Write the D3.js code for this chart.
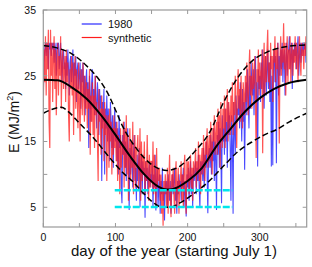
<!DOCTYPE html>
<html lang="en">
<head>
<meta charset="UTF-8">
<script src="https://d3js.org/d3.v7.min.js"></script>
<style>
  body { margin: 0; background: #fff; }
  text { font-family: "Liberation Sans", Arial, sans-serif; fill: #111; }
</style>
</head>
<body>
<script>
// daily values, day 0 = July 1
var blue1980 = [
  22,27,29,30,28,30,29,26,30,29, 30,28,30,29,30,27,30,29,25,30,
  29,30,26,28,30,27,24,28,29,26, 27,23,28,25,29,26,22,27,28,24,
  26,29,23,27,25,28,21,26,27,23, 25,27,20,26,24,27,22,25,19,24,
  26,21,24,14,25,22,18,24,26,20, 23,19,25,21,17,24,22,16,23,20,
  22,9,21,18,23,10,20,17,22,15, 20,16,12,21,18,14,19,11,17,20,
  15,18,12,17,10,19,14,16,8,5.6, 16,13,18,11,15,9,14,17,12,4.6,
  14,10,15,12,8,13,16,9,11,6, 13,9,12,14,5,11,13,7,12,10,
  11,3.4,12,9,11,7,10,12,8,10, 9,12,5,10,8,13,4.5,9,11,5,
  8,10,4,9,7,11,6,8,3,9, 7,9,5,10,8,6,9,4,8,10,
  7,9,11,6,8,4,9,7,10,8, 9,6,10,8,11,5,9,7,3.6,10,
  8,11,6,9,12,7,10,5,11,9, 10,12,7,11,9,13,8,4.9,12,10,
  12,9,14,8,13,11,15,10,4.1,13, 14,11,16,10,15,12,17,9,15,13,
  4.6,16,13,18,11,17,14,5.6,19,15, 17,13,20,15,18,11,21,16,19,14,
  6,19,15,4,21,17,13,22,18,20, 19,22,17,24,20,15,23,18,21,10.7,
  21,24,19,26,22,17,25,20,27,23, 22,26,19,25,28,21,24,11.2,26,23,
  25,21,27,23,29,24,20,26,28,22, 26,29,23,27,21,28,11.2,25,11.4,27,
  29,24,28,11.7,26,30,22,28,25,29, 26,30,24,28,29,22,27,30,25,28,
  29,31,26,28,30,23,29,27,30,28, 30,26,29,31,25,28,30,27,29,30,
  28,30,29,30,27
];
var synthetic = [
  20,29,24,31,22,30,26,32,18,14, 32,25,30,21,28,31,23,29,19,27,
  30,22,28,25,31,20,27,29,23,26, 28,21,29,24,27,19,15,26,23,28,
  22,27,16,25,28,20,26,23,17,27, 21,15,26,23,19,27,22,18,25,20,
  24,17,23,20,26,13,22,18,24,16, 22,14,25,19,21,15,9,23,18,20,
  13,22,17,20,12,21,16,19,9,18, 19,11,20,15,18,10,17,13,19,14,
  17,12,18,9,16,14,7,17,11,15, 13,18,8,17,11,19,10,16,6,13,
  17,9,15,11,18,7,12,16,8,14, 14,16,8,11,17,6,15,9,13,10,
  15,7,12,9,16,10,6,13,8,12, 12,8,15,7,13,9,5,14,8,11,
  9,11,6,10,4,8,2.2,9,7,10, 8,5,11,4,9,13,6,3.5,10,8,
  11,7,4,10,12,5,8,11,4,9, 9,12,6,10,5,11,13,7,4,12,
  9,12,7,10,13,8,11,6,12,10, 11,14,8,12,10,15,9,13,7,12,
  14,10,16,12,9,15,13,17,11,14, 16,12,18,14,10,17,15,19,13,16,
  18,13,20,15,19,11,21,16,14,20, 17,22,14,20,18,23,15,21,19,16,
  22,18,24,16,21,19,25,20,14,23, 26,20,23,18,25,21,17,24,22,19,
  25,21,27,23,19,26,29,22,25,20, 27,23,24,28,21,12.5,26,24,29,22,
  27,25,23,29,13.2,26,30,22,28,24, 29,32,24,27,23,30,26,28,21,29,
  27,31,24,29,26,30,23,14.7,28,31, 25,29,27,33,26,30,22,28,31,24,
  29,26,31,24,28,30,25,29,27,31, 26,30,28,24,29,31,27,25,30,28,
  29,26,30,28,31
];

// smooth mean and +/- band
var meanDays = [0,20,40,60,80,100,120,140,160,171,180,200,220,240,260,280,300,320,340,365];
var meanVals = [24.4,24.3,23.2,21.5,19.0,16.0,12.8,10.0,8.1,7.7,7.8,9.0,11.0,14.3,17.0,19.6,21.6,23.0,23.9,24.4];
var upperDays = [0,20,40,60,80,90,100,110,130,150,171,190,210,230,250,270,290,310,330,350,365];
var upperVals = [29.6,29.2,28.3,26.5,24.0,22.2,19.8,17.3,13.8,11.5,10.6,11.3,13.5,16.3,21.0,24.8,27.3,28.6,29.3,29.6,29.7];
var lowerDays = [0,10,25,35,50,70,90,110,125,140,155,165,175,190,210,230,250,270,290,310,323,341,365];
var lowerVals = [19.3,19.8,20.2,19.5,17.8,15.5,12.8,10.3,8.8,7.0,5.5,5.0,5.0,5.7,7.2,9.0,11.3,13.5,15.0,16.2,16.8,18.0,19.3];

// horizontal reference levels
var refLevels = [7.6, 5.05];
var refStart = 99, refEnd = 262;

var xTicks = [0,50,100,150,200,250,300,350];
var xLabels = [0,100,200,300];
var yTicks = [5,10,15,20,25,30,35];
var yLabels = [5,15,25,35];

var width = 312, height = 267;
var svg = d3.select("body").append("svg")
    .attr("width", width)
    .attr("height", height);

var x = d3.scaleLinear().domain([0, 365]).range([43.3, 306.7]);
var y = d3.scaleLinear().domain([2, 35]).range([227, 10]);

svg.append("clipPath").attr("id", "clip")
  .append("rect").attr("x", 43.3).attr("y", 10).attr("width", 263.4).attr("height", 217);

var plot = svg.append("g").attr("clip-path", "url(#clip)");

var daily = d3.line().x(function (d, i) { return x(i); }).y(function (d) { return y(d); });

plot.append("path").datum(blue1980)
    .attr("d", daily)
    .attr("fill", "none")
    .attr("stroke", "#2a2aff")
    .attr("stroke-opacity", 0.85)
    .attr("stroke-width", 1.1);

plot.append("path").datum(synthetic)
    .attr("d", daily)
    .attr("fill", "none")
    .attr("stroke", "#ff1c1c")
    .attr("stroke-opacity", 0.75)
    .attr("stroke-width", 1.2);

function smooth(days, vals) {
    return d3.line()
        .x(function (d, i) { return x(days[i]); })
        .y(function (d) { return y(d); })
        .curve(d3.curveMonotoneX)(vals);
}

plot.append("path").attr("d", smooth(upperDays, upperVals))
    .attr("fill", "none").attr("stroke", "#000").attr("stroke-width", 1.5)
    .attr("stroke-dasharray", "6,3");
plot.append("path").attr("d", smooth(lowerDays, lowerVals))
    .attr("fill", "none").attr("stroke", "#000").attr("stroke-width", 1.5)
    .attr("stroke-dasharray", "6,3");
plot.append("path").attr("d", smooth(meanDays, meanVals))
    .attr("fill", "none").attr("stroke", "#000").attr("stroke-width", 2);

// cyan levels
plot.selectAll(".lvl").data(refLevels).enter().append("line")
    .attr("x1", x(refStart)).attr("x2", x(refEnd))
    .attr("y1", function (d) { return y(d); })
    .attr("y2", function (d) { return y(d); })
    .attr("stroke", "#00e6ec")
    .attr("stroke-width", 2.6)
    .attr("stroke-dasharray", "7,2");

// frame + ticks (inward, on all sides)
var frame = "#9a9a9a";
svg.append("rect").attr("x", 43.3).attr("y", 10).attr("width", 263.4).attr("height", 217)
    .attr("fill", "none").attr("stroke", frame).attr("stroke-width", 1.2);

xTicks.forEach(function (t) {
    svg.append("line").attr("x1", x(t)).attr("x2", x(t)).attr("y1", 227).attr("y2", 223)
        .attr("stroke", frame);
    svg.append("line").attr("x1", x(t)).attr("x2", x(t)).attr("y1", 10).attr("y2", 14)
        .attr("stroke", frame);
});
yTicks.forEach(function (t) {
    svg.append("line").attr("x1", 43.3).attr("x2", 47.3).attr("y1", y(t)).attr("y2", y(t))
        .attr("stroke", frame);
    svg.append("line").attr("x1", 306.7).attr("x2", 302.7).attr("y1", y(t)).attr("y2", y(t))
        .attr("stroke", frame);
});

svg.selectAll(".xl").data(xLabels).enter().append("text")
    .attr("x", function (d) { return x(d); })
    .attr("y", 241)
    .attr("text-anchor", "middle")
    .attr("font-size", 10.5)
    .text(function (d) { return d; });

svg.selectAll(".yl").data(yLabels).enter().append("text")
    .attr("x", 36)
    .attr("y", function (d) { return y(d) + 3.8; })
    .attr("text-anchor", "end")
    .attr("font-size", 10.5)
    .text(function (d) { return d; });

svg.append("text")
    .attr("x", 174).attr("y", 256)
    .attr("text-anchor", "middle")
    .attr("font-size", 15)
    .text("day of the year (starting July 1)");

var yl = svg.append("text")
    .attr("transform", "translate(19,122) rotate(-90)")
    .attr("text-anchor", "middle")
    .attr("font-size", 14);
yl.append("tspan").text("E (MJ/m");
yl.append("tspan").attr("dy", -6).attr("font-size", 9).text("2");
yl.append("tspan").attr("dy", 6).text(")");

// legend
var legend = [{ name: "1980", color: "#2a2aff", y: 24 }, { name: "synthetic", color: "#ff1c1c", y: 37.5 }];
legend.forEach(function (l) {
    svg.append("line").attr("x1", 81.7).attr("x2", 101.7).attr("y1", l.y).attr("y2", l.y)
        .attr("stroke", l.color).attr("stroke-width", 1.2);
    svg.append("text").attr("x", 108).attr("y", l.y + 4).attr("font-size", 11).text(l.name);
});
</script>
</body>
</html>
